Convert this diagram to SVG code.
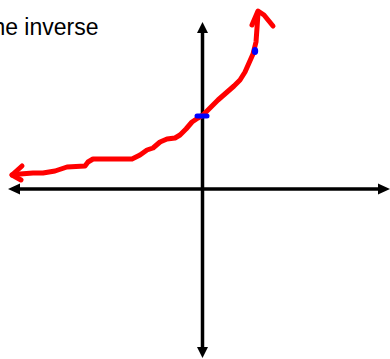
<svg xmlns="http://www.w3.org/2000/svg" width="390" height="359" viewBox="0 0 390 359">
<style>
.axis{stroke:#000;stroke-width:3.5;fill:none}
.head{fill:#000}
.curve{stroke:#ff0000;stroke-width:5;fill:none;stroke-linecap:round;stroke-linejoin:round}
.mark{stroke:#0000ff;stroke-width:5;stroke-linecap:round;fill:none}
.label{font-family:"Liberation Sans",Arial,sans-serif;font-size:23px;fill:#000}
</style>
<rect width="390" height="359" fill="#fff"/>
<text class="label" x="-14" y="35">the inverse</text>
<g id="connectors">
<line class="axis" x1="18" y1="189" x2="382" y2="189"/>
<polygon class="head" points="8,189 20,183.5 20,194.5"/>
<polygon class="head" points="390,189 378,183.5 378,194.5"/>
<line class="axis" x1="202.5" y1="30" x2="202.5" y2="350"/>
<polygon class="head" points="202.5,22 197,33 208,33"/>
<polygon class="head" points="202.5,358 197,347 208,347"/>
</g>
<g id="curve">
<path class="curve" d="M12,175 L20,174 L33,173 L43,173 L55,171 L67,167 L85,166 L88,162 L93,159 L110,159 L132,159 L140,155 L147,150 L153,148 L160,142 L167,139 L175,138 L180,135 L186,129 L192,122 L198,118 L203,115 L210,108 L218,100 L226,93 L234,86 L240,80 L245,72 L249,63 L253,54 L256,42 L257,28 L258,13"/>
<path class="curve" d="M252,25 L258,11 L264,15 L273,26"/>
<path class="curve" d="M22,166 L12,175 L21,180"/>
</g>
<g id="marks">
<line class="mark" x1="197" y1="116" x2="207" y2="116"/>
<ellipse cx="255" cy="51" rx="3.2" ry="4" fill="#0000ff"/>
</g>
</svg>
